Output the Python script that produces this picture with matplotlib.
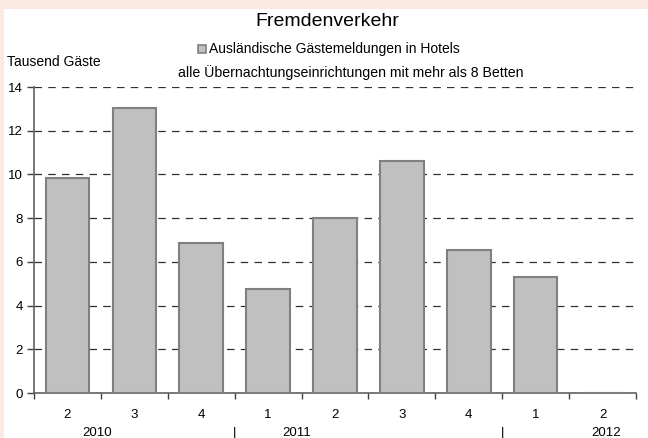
"""
Fremdenverkehr: ausländische Gästemeldungen pro Quartal.
"""
import matplotlib
matplotlib.use('Agg')
from matplotlib import pyplot as plt
from matplotlib.patches import Rectangle

plt.rcParams['font.family'] = ['Liberation Sans', 'DejaVu Sans']

# Quartale 2/2010 bis 2/2012
quarters = ['2', '3', '4', '1', '2', '3', '4', '1', '2']
years = ['2010', '2011', '2012']
year_pos = [0.44, 3.43, 8.05]       # Lage der Jahresbeschriftung (Kategorieindex)
year_breaks = [2.5, 6.5]            # Trennstriche zwischen den Jahren
guests = [9.83, 13.04, 6.85, 4.78, 8.0, 10.6, 6.55, 5.3, 0.0]

y_ticks = [0, 2, 4, 6, 8, 10, 12, 14]

fig = plt.figure(figsize=(6.48, 4.38), dpi=100, facecolor='#fbe9e2')
# weisse Zeichenfläche innerhalb des rosa Rands
fig.patches.append(Rectangle((4 / 648, 0), 1, 1 - 9 / 438, transform=fig.transFigure,
                             facecolor='white', edgecolor='none', zorder=-1))

ax = fig.add_axes([34 / 648, 45 / 438, 602 / 648, 306 / 438])
ax.set_facecolor('none')

x = list(range(len(quarters)))
ax.bar(x, guests, width=0.65, color='#c0c0c0', edgecolor='#808080', linewidth=1.5,
       zorder=3)

ax.set_xlim(-0.5, len(quarters) - 0.5)
ax.set_ylim(0, 14)
ax.set_yticks(y_ticks)
ax.set_yticklabels([str(v) for v in y_ticks], fontsize=9.5)
for v in y_ticks[1:]:
    ax.axhline(v, color='#303030', linestyle=(0, (6, 5)), linewidth=0.9, zorder=1)

ax.set_xticks([i + 0.5 for i in x[:-1]] + [-0.5, len(quarters) - 0.5])
ax.set_xticklabels([])
ax.tick_params(axis='x', direction='out', length=4, width=1, color='#404040')
ax.tick_params(axis='y', direction='out', length=5, width=1, color='#404040', pad=3)

for i, q in enumerate(quarters):
    ax.text(i, -1.0, q, ha='center', va='center', fontsize=9.5)
for pos, yr in zip(year_pos, years):
    ax.text(pos, -1.85, yr, ha='center', va='center', fontsize=9.5)
for pos in year_breaks:
    ax.text(pos, -1.85, '|', ha='center', va='center', fontsize=9.5)

for side in ['top', 'right']:
    ax.spines[side].set_visible(False)
ax.spines['left'].set_color('#606060')
ax.spines['bottom'].set_color('#606060')
ax.spines['left'].set_linewidth(1.2)
ax.spines['bottom'].set_linewidth(1.2)

fig.text(327 / 648, 1 - 21 / 438, 'Fremdenverkehr', ha='center', va='center', fontsize=14)
fig.text(7 / 648, 1 - 62 / 438, 'Tausend Gäste', ha='left', va='center', fontsize=10)

# Legende mit grauem Kästchen
fig.patches.append(Rectangle((198 / 648, 1 - 53 / 438), 8 / 648, 8 / 438,
                             transform=fig.transFigure, facecolor='#c0c0c0',
                             edgecolor='#808080', linewidth=1.2, zorder=3))
fig.text(209 / 648, 1 - 49 / 438, 'Ausländische Gästemeldungen in Hotels',
         ha='left', va='center', fontsize=10)
fig.text(351 / 648, 1 - 73 / 438,
         'alle Übernachtungseinrichtungen mit mehr als 8 Betten',
         ha='center', va='center', fontsize=10.2)

fig.savefig('out.png', dpi=100, facecolor=fig.get_facecolor())
